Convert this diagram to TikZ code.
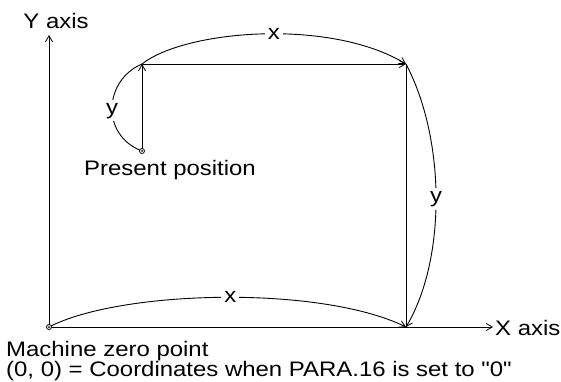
\documentclass[tikz,border=0pt]{standalone}
\usepackage{fontspec}
\setmainfont[FakeStretch=1.14,Ligatures=TeXOff]{Liberation Sans}
\usetikzlibrary{arrows.meta}
\begin{document}
\begin{tikzpicture}[x=1pt,y=-1pt,
  line/.style={line width=0.9pt},
  tip/.style={-{Straight Barb[length=6pt,width=7pt,line width=0.8pt]}},
  lbl/.style={font=\fontsize{21}{20}\selectfont,inner sep=1pt},
  mid/.style={lbl,fill=white,inner sep=3pt},
  dot/.style={circle,draw,line width=0.8pt,minimum size=5pt,inner sep=0pt,fill=white}]
\useasboundingbox (0,0) rectangle (561,382);
\coordinate (O) at (49,327);
\coordinate (P) at (142,151);
\coordinate (TL) at (142,64);
\coordinate (TR) at (406,64);
\coordinate (BR) at (406,327);
\coordinate (YT) at (49,35);
\coordinate (XT) at (493,327);
% axes
\draw[line,tip] (O) -- (YT);
\draw[line,tip] (O) -- (XT);
\node[lbl,anchor=west] (xaxis) at (494,328) {X axis};
\node[lbl] (yaxis) at (56,21) {Y axis};
% path
\draw[line,tip] (P) -- (TL);
\draw[line,tip] (TL) -- (TR);
\draw[line] (TR) -- (BR);
% curves
\draw[line] (P) .. controls (100,135) and (104,80) .. node[mid,pos=0.47] (ly) {y} (TL);
\draw[line,tip] (TL) .. controls (185,30) and (330,18) .. node[mid,pos=0.54] (tx) {x} (TR);
\draw[line,tip] (TR) .. controls (446,140) and (446,260) .. node[mid,pos=0.5] (ry) {y} (BR);
\draw[line,tip] (O) .. controls (120,290) and (320,285) .. node[mid,pos=0.52] (bx) {x} (BR);
% points
\node[dot] (pp) at (P) {};
\fill (pp.center) circle (1pt);
\node[dot] (oo) at (O) {};
\fill (oo.center) circle (1pt);
\node[lbl] (ptxt) at (170,170) {Present position};
\node[lbl,anchor=north west,align=left] (mz) at (5,340) {Machine zero point\\(0, 0) = Coordinates when PARA.16 is set to "0"};
\end{tikzpicture}
\end{document}
